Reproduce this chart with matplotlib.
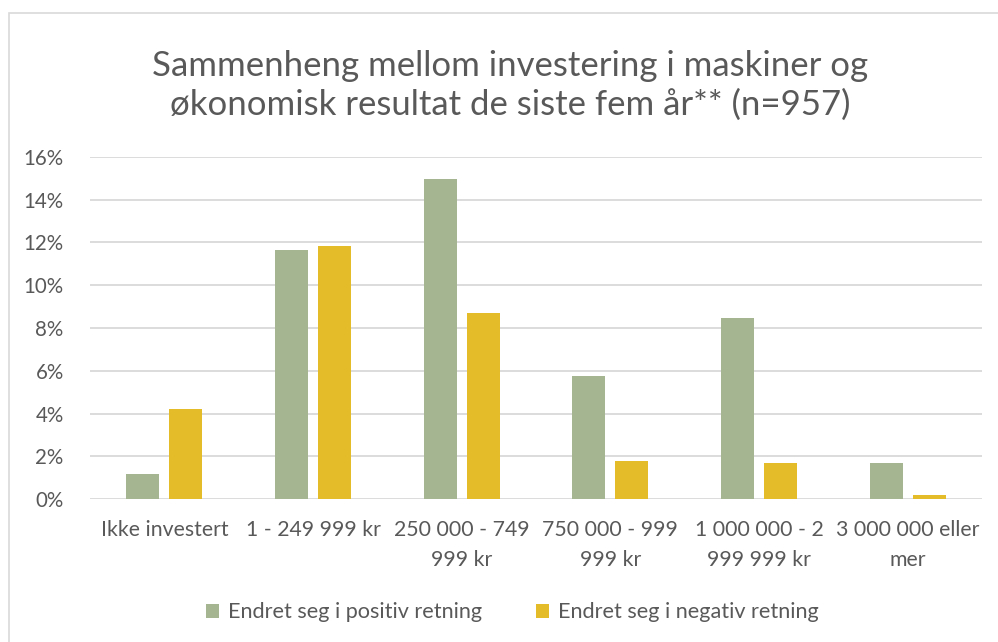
import numpy as np
import matplotlib.pyplot as plt
from matplotlib.patches import Rectangle
from matplotlib.ticker import FuncFormatter

# ============================================================
# DONNÉES
# ============================================================
categories = ["Ikke investert", "1 - 249 999 kr", "250 000 - 749\n999 kr",
              "750 000 - 999\n999 kr", "1 000 000 - 2\n999 999 kr", "3 000 000 eller\nmer"]
positiv = [1.15, 11.63, 14.96, 5.75, 8.48, 1.68]
negativ = [4.19, 11.83, 8.68, 1.78, 1.68, 0.19]
series_names = ["Endret seg i positiv retning", "Endret seg i negativ retning"]
yticks = [0, 2, 4, 6, 8, 10, 12, 14, 16]

title = "Sammenheng mellom investering i maskiner og\nøkonomisk resultat de siste fem år** (n=957)"

GREEN = "#A5B592"
YELLOW = "#E4BC2A"
TEXT = "#595959"
GRID = "#D9D9D9"

plt.rcParams['font.family'] = ['Lato', 'DejaVu Sans']

fig = plt.figure(figsize=(9.98, 6.42), dpi=100)
ax = fig.add_axes([0.0902, 0.2227, 0.8938, 0.5328])

x = np.arange(len(categories))
w = 0.222
off = 0.145
ax.bar(x - off, positiv, width=w, color=GREEN, label=series_names[0], zorder=3)
ax.bar(x + off, negativ, width=w, color=YELLOW, label=series_names[1], zorder=3)

ax.set_xlim(-0.5, len(categories) - 0.5)
ax.set_ylim(0, 16)
ax.set_yticks(yticks)
ax.yaxis.set_major_formatter(FuncFormatter(lambda v, p: f"{v:.0f}%"))
ax.grid(axis='y', color=GRID, linewidth=1.3, zorder=0)
ax.set_xticks(x)
ax.set_xticklabels(categories, linespacing=1.65)
ax.tick_params(axis='x', length=0, labelsize=15.3, colors=TEXT, pad=15)
ax.tick_params(axis='y', length=0, labelsize=14.8, colors=TEXT, pad=19)
for s in ax.spines.values():
    s.set_visible(False)

fig.text(0.511, 0.867, title, ha='center', va='center', fontsize=25,
         color=TEXT, linespacing=1.25)

leg = fig.legend(loc='center', bbox_to_anchor=(0.5135, 0.046), ncol=2, frameon=False,
                 fontsize=15.6, handlelength=0.6, handleheight=0.6, handletextpad=0.4,
                 columnspacing=2.5)
for t in leg.get_texts():
    t.set_color(TEXT)

# cadre du graphique
fig.patches.append(Rectangle((9 / 998, -0.05), 1.1, 1.05 - 13 / 642,
                             transform=fig.transFigure, fill=False,
                             edgecolor=GRID, linewidth=1.2))

plt.savefig("out.png", dpi=100)
